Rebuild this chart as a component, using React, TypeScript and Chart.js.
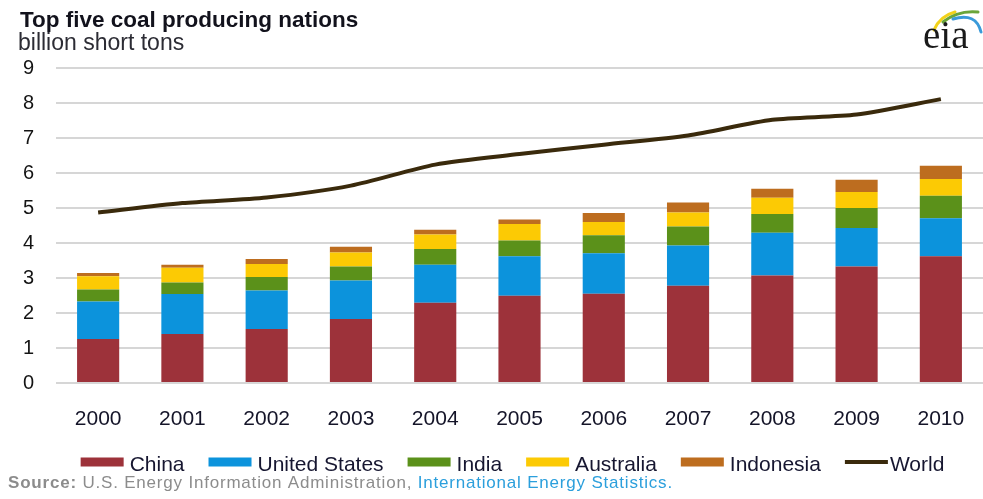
import React, { useEffect, useRef } from 'react';
import { Chart, registerables } from 'chart.js';

Chart.register(...registerables);

const years = ['2000', '2001', '2002', '2003', '2004', '2005', '2006', '2007', '2008', '2009', '2010'];
const china = [1.26, 1.40, 1.54, 1.83, 2.29, 2.49, 2.55, 2.78, 3.07, 3.33, 3.62];
const unitedStates = [1.07, 1.14, 1.10, 1.10, 1.09, 1.13, 1.16, 1.15, 1.22, 1.10, 1.09];
const india = [0.34, 0.33, 0.39, 0.40, 0.45, 0.45, 0.51, 0.54, 0.54, 0.57, 0.64];
const australia = [0.38, 0.42, 0.37, 0.40, 0.41, 0.47, 0.38, 0.40, 0.46, 0.46, 0.48];
const indonesia = [0.09, 0.09, 0.14, 0.16, 0.14, 0.13, 0.26, 0.29, 0.26, 0.35, 0.38];
const world = [4.87, 5.14, 5.30, 5.64, 6.24, 6.54, 6.81, 7.07, 7.52, 7.67, 8.11];

const titleText = 'Top five coal producing nations';
const subtitleText = 'billion short tons';
const sourceLabel = 'Source:';
const sourceText = ' U.S. Energy Information Administration, ';
const sourceLink = 'International Energy Statistics.';
const logoText = 'eia';

const FONT = '"Liberation Sans", Arial, sans-serif';

const overlayPlugin = {
  id: 'overlay',
  afterDraw(chart: any) {
    const ctx: any = chart.ctx;
    ctx.save();
    ctx.textAlign = 'left';
    ctx.textBaseline = 'alphabetic';

    // Title and subtitle
    ctx.fillStyle = '#12121c';
    ctx.font = `bold 22.5px ${FONT}`;
    ctx.fillText(titleText, 20, 27);
    ctx.fillStyle = '#2c2c34';
    ctx.font = `23px ${FONT}`;
    ctx.fillText(subtitleText, 18, 50);

    // Legend
    ctx.font = `21px ${FONT}`;
    const items = chart.data.datasets.map((ds: any) => ({
      label: ds.label as string,
      color: (ds.type === 'line' ? ds.borderColor : ds.backgroundColor) as string,
      isLine: ds.type === 'line',
    }));
    const boxW = 43;
    const gapBox = 6;
    const gapItem = 24;
    let total = 0;
    items.forEach((it: any, i: number) => {
      total += boxW + (it.isLine ? 2 : gapBox) + ctx.measureText(it.label).width;
      if (i < items.length - 1) total += gapItem;
    });
    let x = 512.5 - total / 2;
    const legendY = 462;
    items.forEach((it: any) => {
      if (it.isLine) {
        ctx.strokeStyle = it.color;
        ctx.lineWidth = 4;
        ctx.beginPath();
        ctx.moveTo(x, legendY);
        ctx.lineTo(x + boxW, legendY);
        ctx.stroke();
        x += boxW + 2;
      } else {
        ctx.fillStyle = it.color;
        ctx.fillRect(x, legendY - 4.5, boxW, 9);
        x += boxW + gapBox;
      }
      ctx.fillStyle = '#161630';
      ctx.fillText(it.label, x, 470.5);
      x += ctx.measureText(it.label).width + gapItem;
    });

    // Source line
    let sx = 8;
    const sy = 488;
    ctx.letterSpacing = '0.8px';
    ctx.font = `bold 17px ${FONT}`;
    ctx.fillStyle = '#8c8c8c';
    ctx.fillText(sourceLabel, sx, sy);
    sx += ctx.measureText(sourceLabel).width;
    ctx.font = `17px ${FONT}`;
    ctx.fillText(sourceText, sx, sy);
    sx += ctx.measureText(sourceText).width;
    ctx.fillStyle = '#2b9fdc';
    ctx.fillText(sourceLink, sx, sy);
    ctx.letterSpacing = '0px';

    // eia logo
    ctx.lineCap = 'round';
    ctx.lineWidth = 3;
    ctx.strokeStyle = '#f2d21a';
    ctx.beginPath();
    ctx.moveTo(934, 30);
    ctx.quadraticCurveTo(940, 16, 955, 12);
    ctx.stroke();
    ctx.strokeStyle = '#6aa53a';
    ctx.beginPath();
    ctx.moveTo(943, 22);
    ctx.quadraticCurveTo(958, 10, 978, 12);
    ctx.stroke();
    ctx.strokeStyle = '#3a9ad9';
    ctx.beginPath();
    ctx.moveTo(953, 19);
    ctx.quadraticCurveTo(976, 12, 981, 32);
    ctx.stroke();
    ctx.fillStyle = '#1a1a1a';
    ctx.font = `39px "Liberation Serif", "DejaVu Serif", serif`;
    ctx.fillText(logoText, 923, 48);

    ctx.restore();
  },
};

export default function App() {
  const canvasRef = useRef<HTMLCanvasElement | null>(null);

  useEffect(() => {
    if (!canvasRef.current) return;
    const barCommon = {
      type: 'bar' as const,
      stack: 'coal',
      barPercentage: 0.5,
      categoryPercentage: 1,
      borderWidth: 0,
    };
    const chart = new Chart(canvasRef.current, {
      type: 'bar',
      data: {
        labels: years,
        datasets: [
          { ...barCommon, label: 'China', data: china, backgroundColor: '#9d323a' },
          { ...barCommon, label: 'United States', data: unitedStates, backgroundColor: '#0c93dc' },
          { ...barCommon, label: 'India', data: india, backgroundColor: '#5b911a' },
          { ...barCommon, label: 'Australia', data: australia, backgroundColor: '#fcca04' },
          { ...barCommon, label: 'Indonesia', data: indonesia, backgroundColor: '#bd6d1f' },
          {
            type: 'line' as const,
            label: 'World',
            data: world,
            stack: 'world',
            borderColor: '#3a2a0c',
            backgroundColor: '#3a2a0c',
            borderWidth: 4,
            pointRadius: 0,
            tension: 0.25,
            fill: false,
            order: -1,
          },
        ] as any,
      },
      options: {
        animation: false,
        responsive: true,
        maintainAspectRatio: false,
        layout: { padding: { top: 68, bottom: 66, left: 0, right: -3 } },
        plugins: {
          legend: { display: false },
          title: { display: false },
          tooltip: { enabled: false },
        },
        scales: {
          x: {
            stacked: true,
            grid: { display: false, drawTicks: false },
            border: { display: false },
            ticks: {
              color: '#141428',
              font: { family: FONT, size: 21, lineHeight: 3.48 },
              padding: 0,
            },
            afterFit: (scale: any) => {
              scale.height = 50;
            },
          },
          y: {
            stacked: true,
            min: 0,
            max: 9,
            grid: { color: '#d6d6d6', lineWidth: 2, drawTicks: false },
            border: { display: false },
            ticks: {
              stepSize: 1,
              color: '#141414',
              font: { family: FONT, size: 20 },
              padding: 22,
            },
            afterFit: (scale: any) => {
              scale.width = 56;
            },
          },
        },
      },
      plugins: [overlayPlugin],
    });
    return () => chart.destroy();
  }, []);

  return (
    <div style={{ position: 'fixed', left: 0, top: 0, width: 983, height: 499, background: '#fff' }}>
      <canvas ref={canvasRef} />
    </div>
  );
}
